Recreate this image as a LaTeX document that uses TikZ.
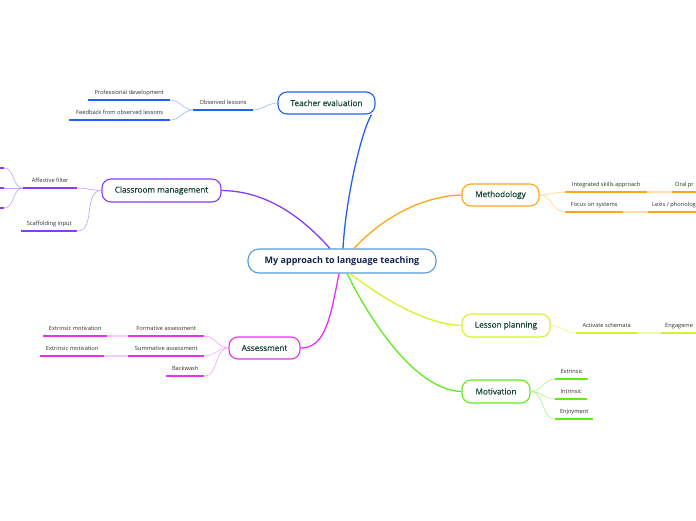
\documentclass[tikz,border=0pt]{standalone}
\usepackage{fontspec}
\setmainfont{Open Sans}
\newfontfamily\boxfont{Open Sans}[FakeBold=0.4]
\usetikzlibrary{calc}
\definecolor{cblue}{RGB}{35,95,250}
\definecolor{cpurple}{RGB}{135,60,250}
\definecolor{corange}{RGB}{255,165,25}
\definecolor{cyellow}{RGB}{215,242,40}
\definecolor{cgreen}{RGB}{95,235,30}
\definecolor{cmag}{RGB}{230,50,240}
\definecolor{ccentral}{RGB}{85,155,215}
\definecolor{boxtext}{RGB}{22,70,55}
\definecolor{centraltext}{RGB}{20,35,80}
\definecolor{leaftext}{RGB}{45,45,45}
\begin{document}
\begin{tikzpicture}[x=1pt,y=-1pt,
  central/.style={draw=ccentral, rounded corners=11pt, line width=1.1pt, fill=white, inner sep=0,
    minimum width=188, minimum height=24, text=centraltext, font=\fontsize{9}{10}\selectfont\bfseries},
  branch/.style={draw, rounded corners=9pt, line width=1.1pt, fill=white, inner sep=0,
    minimum height=22, text=boxtext, font=\boxfont\fontsize{8.2}{10}\selectfont},
  leaf/.style={inner sep=0, minimum height=14, anchor=south west, text=leaftext,
    font=\fontsize{5.7}{7}\selectfont},
  ul/.style={line width=1.6pt},
  twig/.style={line width=0.6pt},
  bridge/.style={line width=1.4pt},
  main/.style={line width=1.3pt}]
\useasboundingbox (0,0) rectangle (696,520);
\clip (0,0) rectangle (696,520);
\coordinate (edgeR) at (700,0);

% central and branch nodes
\node[central] (c) at (342,261) {My approach to language teaching};
\node[branch, draw=cblue, minimum width=97] (te) at (326.5,103) {Teacher evaluation};
\node[branch, draw=cpurple, minimum width=119, minimum height=23] (cm) at (161.5,190.5) {Classroom management};
\node[branch, draw=corange, minimum width=77] (me) at (500.5,195) {Methodology};
\node[branch, draw=cyellow, minimum width=88, minimum height=23] (lp) at (506,325.5) {Lesson planning};
\node[branch, draw=cgreen, minimum width=68, minimum height=23] (mo) at (496,391.5) {Motivation};
\node[branch, draw=cmag, minimum width=71] (as) at (264.5,348) {Assessment};

% main connectors
\draw[main, cblue] ([shift={(1,0)}]c.north) .. controls (346,195) and (362,130) .. ([shift={(-4,0)}]te.south east);
\draw[main, cpurple] ([shift={(-12,0)}]c.north) .. controls (300,215) and (265,191) .. (cm.east);
\draw[main, corange] ([shift={(12,0)}]c.north) .. controls (385,215) and (425,196) .. (me.west);
\draw[main, cyellow] ([shift={(8,0)}]c.south) .. controls (385,300) and (425,324) .. (lp.west);
\draw[main, cgreen] ([shift={(5,0)}]c.south) .. controls (370,320) and (415,390) .. (mo.west);
\draw[main, cmag] ([shift={(-3,0)}]c.south) .. controls (330,320) and (325,348) .. (as.east);

% Teacher evaluation leaves
\node[leaf, minimum width=60] (obs) at (193,110) {Observed lessons};
\node[leaf, minimum width=82] (pd) at (88,100) {Professional development};
\node[leaf, minimum width=101] (fb) at (69,120) {Feedback from observed lessons};
\foreach \n in {obs,pd,fb} \draw[ul,cblue] (\n.south west) -- (\n.south east);
\draw[twig,cblue!45] (obs.south east) to[out=0,in=180] (te.west);
\draw[twig,cblue!45] (pd.south east) to[out=0,in=180] (obs.south west);
\draw[twig,cblue!45] (fb.south east) to[out=0,in=180] (obs.south west);

% Classroom management leaves
\node[leaf, minimum width=54] (af) at (23,188) {Affective filter};
\node[leaf, minimum width=56] (si) at (21,231) {Scaffolding input};
\foreach \n in {af,si} \draw[ul,cpurple] (\n.south west) -- (\n.south east);
\draw[twig,cpurple!50] (af.south east) to[out=0,in=180] (cm.west);
\draw[twig,cpurple!50] (si.south east) to[out=0,in=180] (cm.west);
\coordinate (afa) at (4,168);
\coordinate (afb) at (4,188);
\coordinate (afc) at (4,208);
\coordinate (afa0) at (-10,168);
\coordinate (afb0) at (-10,188);
\coordinate (afc0) at (-10,208);
\draw[ul,cpurple] (afa0) -- (afa);
\draw[ul,cpurple] (afb0) -- (afb);
\draw[ul,cpurple] (afc0) -- (afc);
\draw[twig,cpurple!50] (afa) to[out=0,in=180] (af.south west);
\draw[twig,cpurple!50] (afb) -- (af.south west);
\draw[twig,cpurple!50] (afc) to[out=0,in=180] (af.south west);

% Methodology leaves
\node[leaf, minimum width=82] (isa) at (565,192) {Integrated skills approach};
\node[leaf, minimum width=58] (fos) at (565,212) {Focus on systems};
\node[leaf, inner xsep=3pt] (op) at (672,192) {Oral pr};
\node[leaf, inner xsep=4pt] (lex) at (648,212) {Lexis / phonolog};
\foreach \n in {isa,fos} \draw[ul,corange] (\n.south west) -- (\n.south east);
\foreach \n in {op,lex} \draw[ul,corange] (\n.south west) -- (\n.south west -| edgeR);
\draw[twig,corange!50] (me.east) to[out=0,in=180] (isa.south west);
\draw[twig,corange!50] (me.east) to[out=0,in=180] (fos.south west);
\draw[bridge,corange!35] (isa.south east) -- (op.south west);
\draw[bridge,corange!35] (fos.south east) -- (lex.south west);

% Lesson planning leaves
\node[leaf, minimum width=61] (asc) at (576,333) {Activate schemata};
\node[leaf, inner xsep=4pt] (eng) at (661,333) {Engageme};
\draw[ul,cyellow] (asc.south west) -- (asc.south east);
\draw[ul,cyellow] (eng.south west) -- (eng.south west -| edgeR);
\draw[twig,cyellow!70] (lp.east) to[out=0,in=180] (asc.south west);
\draw[bridge,cyellow!40] (asc.south east) -- (eng.south west);

% Motivation leaves
\node[leaf, minimum width=33] (ex) at (555,379) {Extrinsic};
\node[leaf, minimum width=32] (in) at (555,399) {Intrinsic};
\node[leaf, minimum width=38] (en) at (555,419) {Enjoyment};
\foreach \n in {ex,in,en} \draw[ul,cgreen] (\n.south west) -- (\n.south east);
\draw[twig,cgreen!55] (mo.east) to[out=0,in=180] (ex.south west);
\draw[twig,cgreen!55] (mo.east) to[out=0,in=180] (in.south west);
\draw[twig,cgreen!55] (mo.east) to[out=0,in=180] (en.south west);

% Assessment leaves
\node[leaf, minimum width=76] (fa) at (128,336) {Formative assessment};
\node[leaf, minimum width=76] (sa) at (128,356) {Summative assessment};
\node[leaf, minimum width=38] (bw) at (166,376) {Backwash};
\node[leaf, minimum width=64] (em1) at (43,336) {Extrinsic motivation};
\node[leaf, minimum width=64] (em2) at (40,356) {Extrinsic motivation};
\foreach \n in {fa,sa,bw,em1,em2} \draw[ul,cmag] (\n.south west) -- (\n.south east);
\draw[twig,cmag!45] (fa.south east) to[out=0,in=180] (as.west);
\draw[twig,cmag!45] (sa.south east) to[out=0,in=180] (as.west);
\draw[twig,cmag!45] (bw.south east) to[out=0,in=180] (as.west);
\draw[bridge,cmag!25] (em1.south east) -- (fa.south west);
\draw[bridge,cmag!25] (em2.south east) -- (sa.south west);
\end{tikzpicture}
\end{document}
